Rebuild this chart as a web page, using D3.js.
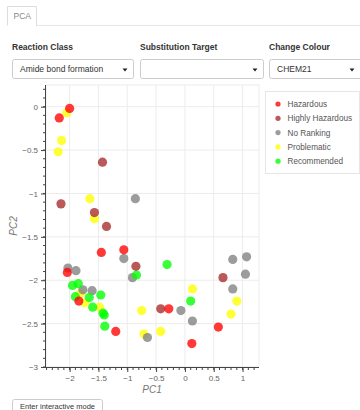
<!DOCTYPE html>
<html><head><meta charset="utf-8">
<script src="https://cdn.jsdelivr.net/npm/d3@7"></script>
<style>
body{margin:0;background:#fff;font-family:"Liberation Sans",Arial,sans-serif;}
svg{display:block;}
</style></head>
<body>
<svg id="c" width="360" height="410"></svg>
<script>
// ---- data ----
const categories = ["Hazardous","Highly Hazardous","No Ranking","Problematic","Recommended"];
const colors = ["#ff0000","#a52a2a","#808080","#ffff00","#00ff00"];
const hazardous = [[-2.0,-0.02],[-2.18,-0.13],[-1.45,-1.68],[-1.06,-1.65],[-2.04,-1.91],[-1.84,-2.24],[-1.20,-2.59],[-0.28,-2.33],[0.58,-2.54],[0.12,-2.73]];
const highlyHazardous = [[-1.43,-0.64],[-2.15,-1.12],[-1.57,-1.22],[-1.36,-1.38],[-0.85,-1.84],[-0.42,-2.33],[0.66,-1.97]];
const noRanking = [[-0.86,-1.06],[-1.06,-1.75],[-2.03,-1.86],[-1.89,-1.89],[-0.91,-1.97],[-1.77,-2.11],[-1.61,-2.12],[-0.65,-2.66],[-0.07,-2.35],[0.13,-2.47],[0.83,-1.76],[1.07,-1.73],[1.05,-1.93],[0.83,-2.10]];
const problematic = [[-2.05,-0.07],[-2.14,-0.39],[-2.2,-0.52],[-1.65,-1.06],[-1.57,-1.29],[-1.81,-2.15],[-1.74,-2.26],[-1.48,-2.31],[-0.75,-2.35],[-0.71,-2.62],[-0.42,-2.59],[0.13,-2.10],[0.90,-2.24],[0.80,-2.39]];
const recommended = [[-0.84,-1.94],[-1.95,-2.06],[-1.85,-2.04],[-1.90,-2.19],[-1.66,-2.20],[-1.60,-2.31],[-1.46,-2.17],[-1.42,-2.38],[-1.40,-2.40],[-1.39,-2.53],[-0.31,-1.82],[0.10,-2.24]];
const xTicks = [-2,-1.5,-1,-0.5,0,0.5,1];
const yTicks = [0,-0.5,-1,-1.5,-2,-2.5,-3];
const xDomain = [-2.41, 1.285];
const yDomain = [0.25, -3];

const svg = d3.select("#c");
const font = '"Liberation Sans",Arial,sans-serif';

// ---- header (tab + controls) ----
svg.append("line").attr("x1",36).attr("x2",360).attr("y1",25.5).attr("y2",25.5).attr("stroke","#e6e6e6");
svg.append("path").attr("d","M7.5,25.5V6.5H36.5V25.5").attr("fill","#fff").attr("stroke","#ddd");
svg.append("text").attr("x",13.5).attr("y",19).text("PCA").attr("font-size",8.5).attr("fill","#888").attr("font-family",font);

const controls = [
  {label:"Reaction Class", x:12, w:121, value:"Amide bond formation"},
  {label:"Substitution Target", x:140, w:123, value:""},
  {label:"Change Colour", x:269, w:95, value:"CHEM21"}
];
controls.forEach(c=>{
  svg.append("text").attr("x",c.x).attr("y",50).text(c.label)
    .attr("font-size",8.5).attr("font-weight","bold").attr("fill","#333").attr("font-family",font);
  svg.append("rect").attr("x",c.x+0.5).attr("y",59.5).attr("width",c.w).attr("height",19).attr("rx",2)
    .attr("fill","#fff").attr("stroke","#ccc");
  svg.append("text").attr("x",c.x+8).attr("y",72).text(c.value)
    .attr("font-size",8.5).attr("fill","#333").attr("font-family",font);
  const ax = Math.min(c.x+c.w-8, 352);
  svg.append("path").attr("d",`M${ax-2.5},68.5L${ax+2.5},68.5L${ax},71.5Z`).attr("fill","#222");
});

// ---- plot ----
const x = d3.scaleLinear().domain(xDomain).range([46,259]);
const y = d3.scaleLinear().domain(yDomain).range([85,367]);

// frame
svg.append("rect").attr("x",46).attr("y",85).attr("width",213).attr("height",282)
  .attr("fill","none").attr("stroke","#ececec");
// grid
svg.append("g").selectAll("line").data(xTicks).join("line")
  .attr("x1",d=>x(d)).attr("x2",d=>x(d)).attr("y1",85).attr("y2",367).attr("stroke","#ececec");
svg.append("g").selectAll("line").data(yTicks).join("line")
  .attr("x1",46).attr("x2",259).attr("y1",d=>y(d)).attr("y2",d=>y(d)).attr("stroke","#ececec");

// minor ticks
const xMinor = d3.range(-24,13).map(v=>v/10);
const yMinor = d3.range(-30,3).map(v=>v/10);
const xAxisG = svg.append("g").attr("transform","translate(0,367)");
xAxisG.selectAll("line.mn").data(xMinor).join("line").attr("class","mn")
  .attr("x1",d=>x(d)).attr("x2",d=>x(d)).attr("y1",0).attr("y2",3).attr("stroke","#444");
const yAxisG = svg.append("g").attr("transform","translate(46,0)");
yAxisG.selectAll("line.mn").data(yMinor).join("line").attr("class","mn")
  .attr("y1",d=>y(d)).attr("y2",d=>y(d)).attr("x1",0).attr("x2",-3).attr("stroke","#444");

// axes
const fmt = d=> d===0 ? "0" : d3.format("")(d).replace("-","\u2212");
xAxisG.call(d3.axisBottom(x).tickValues(xTicks).tickSize(5).tickPadding(3).tickFormat(fmt));
yAxisG.call(d3.axisLeft(y).tickValues(yTicks).tickSize(5).tickPadding(3).tickFormat(fmt));
[xAxisG,yAxisG].forEach(g=>{
  g.select(".domain").attr("stroke","#444");
  g.selectAll(".tick line").attr("stroke","#444");
  g.selectAll(".tick text").attr("font-size",8).attr("fill","#666").attr("font-family",font);
});
xAxisG.select(".domain").attr("d","M46,0.5H259");
yAxisG.select(".domain").attr("d","M-0.5,85V367");

svg.append("text").attr("x",152).attr("y",393).attr("text-anchor","middle").text("PC1")
  .attr("font-size",10).attr("font-style","italic").attr("fill","#777").attr("font-family",font);
svg.append("text").attr("transform","translate(17,226) rotate(-90)").attr("text-anchor","middle").text("PC2")
  .attr("font-size",10).attr("font-style","italic").attr("fill","#777").attr("font-family",font);

// points
const seriesList = [hazardous, highlyHazardous, noRanking, problematic, recommended];
const drawOrder = [3,2,4,1,0];
const pts = svg.append("g");
drawOrder.forEach(i=>{
  pts.append("g").selectAll("circle").data(seriesList[i]).join("circle")
    .attr("cx",d=>x(d[0])).attr("cy",d=>y(d[1])).attr("r",4.6)
    .attr("fill",colors[i]).attr("fill-opacity",0.78);
});

// legend
const lg = svg.append("g");
lg.append("rect").attr("x",265.5).attr("y",91.5).attr("width",94).attr("height",82)
  .attr("fill","#fff").attr("stroke","#e6e6e6");
categories.forEach((c,i)=>{
  const yy = 104 + i*14.3;
  lg.append("circle").attr("cx",278).attr("cy",yy).attr("r",2.6).attr("fill",colors[i]).attr("fill-opacity",0.78);
  lg.append("text").attr("x",287.5).attr("y",yy+3).text(c)
    .attr("font-size",8.2).attr("fill","#555").attr("font-family",font);
});

// button
svg.append("rect").attr("x",12.5).attr("y",399.5).attr("width",90).attr("height",16).attr("rx",2)
  .attr("fill","#fff").attr("stroke","#ccc");
svg.append("text").attr("x",20).attr("y",409).text("Enter interactive mode")
  .attr("font-size",7.5).attr("fill","#333").attr("font-family",font);
</script>
</body></html>
